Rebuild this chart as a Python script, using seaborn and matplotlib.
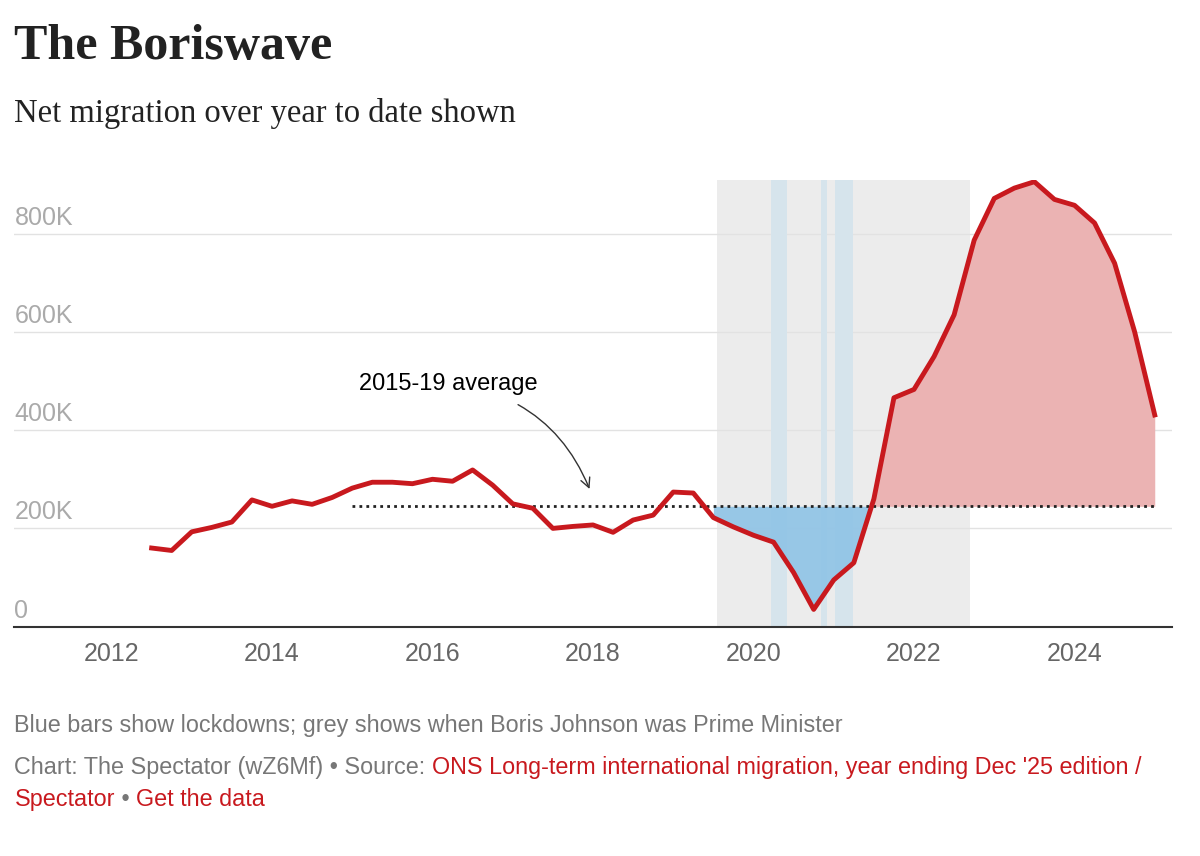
import numpy as np
import pandas as pd
import matplotlib
matplotlib.use("Agg")
import matplotlib.pyplot as plt
import seaborn as sns

years = [2012.5 + 0.25 * i for i in range(51)]
net_migration_k = [160, 155, 193, 202, 213, 258, 245, 256, 249, 263, 282, 294, 294, 291, 300, 296,
                   319, 288, 250, 241, 200, 204, 207, 192, 217, 227, 274, 272, 222, 203, 186, 172,
                   110, 35, 95, 130, 260, 466, 483, 550, 635, 787, 872, 893, 906, 870, 858, 822,
                   740, 600, 431]
average_k = 245
avg_span = [2015.0, 2025.0]
pm_span = [2019.55, 2022.7]
lockdowns = [(2020.22, 2020.42), (2020.84, 2020.92), (2021.02, 2021.24)]
yticks = [0, 200, 400, 600, 800]
ytick_labels = ["0", "200K", "400K", "600K", "800K"]
xticks = [2012, 2014, 2016, 2018, 2020, 2022, 2024]

df = pd.DataFrame({"year": years, "value": net_migration_k})

fig = plt.figure(figsize=(12, 8.56), dpi=100)
ax = fig.add_axes([0.012, 0.268, 0.965, 0.522])

ax.axvspan(*pm_span, color="#ececec", zorder=0, lw=0)
for a, b in lockdowns:
    ax.axvspan(a, b, color="#d6e4ec", zorder=0.5, lw=0)

x = np.array(years); y = np.array(net_migration_k, float)
m = x >= 2019.5
ax.fill_between(x[m], y[m], average_k, where=y[m] < average_k, interpolate=True,
                color="#8ec3e6", alpha=0.9, zorder=1, lw=0)
ax.fill_between(x[m], y[m], average_k, where=y[m] > average_k, interpolate=True,
                color="#ebb3b3", zorder=1, lw=0)

for t in yticks[1:]:
    ax.axhline(t, color="#e2e2e2", lw=1, zorder=0.2)
ax.plot(avg_span, [average_k, average_k], ls=(0, (1, 1.5)), color="#222222", lw=2, zorder=2)
sns.lineplot(data=df, x="year", y="value", ax=ax, color="#c8191e", lw=3.5, zorder=3)

ax.annotate("2015-19 average", xy=(2017.97, 275), xytext=(2016.2, 495),
            fontsize=17, ha="center", va="center", family="Liberation Sans",
            arrowprops=dict(arrowstyle="->", color="#333333", lw=1,
                            connectionstyle="arc3,rad=-0.3", shrinkA=12))

ax.set_xlim(2010.79, 2025.22)
ax.set_ylim(0, 910)
ax.set_xticks(xticks)
ax.set_xticklabels([str(t) for t in xticks], fontsize=18, color="#666666", family="Liberation Sans")
ax.set_yticks([])
for t, l in zip(yticks, ytick_labels):
    ax.text(2010.79, t + 8, l, fontsize=18, color="#aaaaaa", family="Liberation Sans", va="bottom")
ax.tick_params(axis="x", length=0, pad=11)
ax.set_xlabel(""); ax.set_ylabel("")
for s in ["top", "right", "left"]:
    ax.spines[s].set_visible(False)
ax.spines["bottom"].set_color("#333333")
ax.spines["bottom"].set_linewidth(1.5)

fig.text(0.012, 0.945, "The Boriswave", fontsize=36, family="Liberation Serif", weight="bold", va="center", color="#222222")
fig.text(0.012, 0.867, "Net migration over year to date shown", fontsize=23.5, family="Liberation Serif", va="center", color="#222222")
fs = 16.8
fig.text(0.012, 0.152, "Blue bars show lockdowns; grey shows when Boris Johnson was Prime Minister",
         fontsize=fs, color="#777777", family="Liberation Sans", va="center")
t1 = fig.text(0.012, 0.103, "Chart: The Spectator (wZ6Mf) • Source: ", fontsize=fs, color="#777777",
              family="Liberation Sans", va="center")
fig.canvas.draw()
bb = t1.get_window_extent()
fig.text(bb.x1 / fig.bbox.width, 0.103, "ONS Long-term international migration, year ending Dec '25 edition /",
         fontsize=fs, color="#c8191e", family="Liberation Sans", va="center")
t3 = fig.text(0.012, 0.066, "Spectator", fontsize=fs, color="#c8191e", family="Liberation Sans", va="center")
bb3 = t3.get_window_extent()
t4 = fig.text(bb3.x1 / fig.bbox.width, 0.066, " • ", fontsize=fs, color="#777777", family="Liberation Sans", va="center")
bb4 = t4.get_window_extent()
fig.text(bb4.x1 / fig.bbox.width, 0.066, "Get the data", fontsize=fs, color="#c8191e", family="Liberation Sans", va="center")

fig.savefig("out.png", dpi=100)
